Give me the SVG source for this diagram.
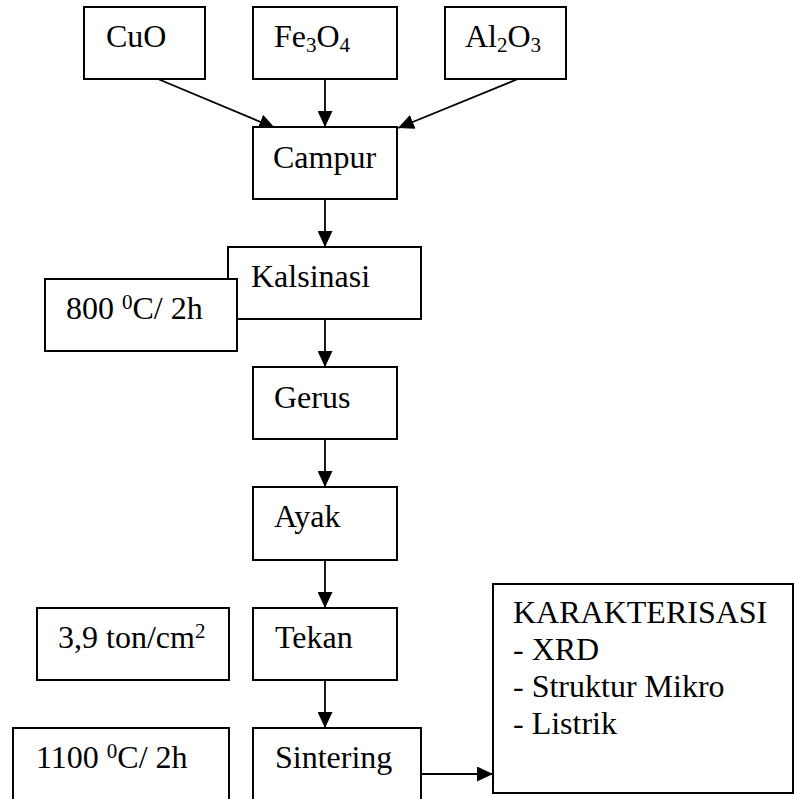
<svg xmlns="http://www.w3.org/2000/svg" width="794" height="799" viewBox="0 0 794 799">
<style>
  .box { fill: #fff; stroke: #000; stroke-width: 2; }
  .t { font-family: 'Liberation Serif', serif; font-size: 32px; fill: #000; }
  .sub { font-size: 21px; }
  .conn { stroke: #000; stroke-width: 1.8; fill: none; }
</style>
<defs>
  <marker id="ah" markerUnits="userSpaceOnUse" markerWidth="16" markerHeight="15" refX="16" refY="7.5" orient="auto">
    <path d="M0,0 L16,7.5 L0,15 z" fill="#000"/>
  </marker>
</defs>
<rect width="794" height="799" fill="#fff"/>

<g id="connectors">
  <line class="conn" x1="158" y1="79" x2="275" y2="128" marker-end="url(#ah)"/>
  <line class="conn" x1="325" y1="79" x2="325" y2="127" marker-end="url(#ah)"/>
  <line class="conn" x1="518" y1="79" x2="398" y2="128" marker-end="url(#ah)"/>
  <line class="conn" x1="325" y1="199" x2="325" y2="247" marker-end="url(#ah)"/>
  <line class="conn" x1="325" y1="319" x2="325" y2="367" marker-end="url(#ah)"/>
  <line class="conn" x1="325" y1="439" x2="325" y2="487" marker-end="url(#ah)"/>
  <line class="conn" x1="325" y1="560" x2="325" y2="608" marker-end="url(#ah)"/>
  <line class="conn" x1="325" y1="680" x2="325" y2="728" marker-end="url(#ah)"/>
  <line class="conn" x1="421" y1="774" x2="493" y2="774" marker-end="url(#ah)"/>
</g>

<g font-family="Liberation Serif, serif">
<g id="cuo">
  <rect class="box" x="84" y="7" width="121" height="72"/>
  <text class="t" x="106" y="47">CuO</text>
</g>
<g id="fe3o4">
  <rect class="box" x="253" y="7" width="144" height="72"/>
  <text class="t" x="274" y="47">Fe<tspan class="sub" dy="4.5">3</tspan><tspan dy="-4.5">O</tspan><tspan class="sub" dy="4.5">4</tspan></text>
</g>
<g id="al2o3">
  <rect class="box" x="445" y="7" width="121" height="72"/>
  <text class="t" x="465" y="47">Al<tspan class="sub" dy="4.5">2</tspan><tspan dy="-4.5">O</tspan><tspan class="sub" dy="4.5">3</tspan></text>
</g>
<g id="campur">
  <rect class="box" x="253" y="127" width="144" height="72"/>
  <text class="t" x="273" y="167.5">Campur</text>
</g>
<g id="kalsinasi">
  <rect class="box" x="228" y="247" width="193" height="72"/>
  <text class="t" x="251" y="287">Kalsinasi</text>
</g>
<g id="suhu800">
  <rect class="box" x="45" y="279" width="192" height="72"/>
  <text class="t" x="66" y="319">800 <tspan class="sub" dy="-10.5">0</tspan><tspan dy="10.5">C/ 2h</tspan></text>
</g>
<g id="gerus">
  <rect class="box" x="253" y="367" width="144" height="72"/>
  <text class="t" x="274" y="408">Gerus</text>
</g>
<g id="ayak">
  <rect class="box" x="253" y="487" width="144" height="73"/>
  <text class="t" x="274" y="527">Ayak</text>
</g>
<g id="tekanan">
  <rect class="box" x="37" y="608" width="192" height="72"/>
  <text class="t" x="58" y="648">3,9 ton/cm<tspan class="sub" dy="-10.5">2</tspan></text>
</g>
<g id="tekan">
  <rect class="box" x="253" y="608" width="144" height="72"/>
  <text class="t" x="275" y="648">Tekan</text>
</g>
<g id="suhu1100">
  <rect class="box" x="13" y="728" width="216" height="80"/>
  <text class="t" x="36" y="768">1100 <tspan class="sub" dy="-10.5">0</tspan><tspan dy="10.5">C/ 2h</tspan></text>
</g>
<g id="sintering">
  <rect class="box" x="253" y="728" width="168" height="80"/>
  <text class="t" x="275" y="768">Sintering</text>
</g>
<g id="karakterisasi">
  <rect class="box" x="493" y="584" width="300" height="209"/>
  <text class="t" x="513" y="623.3">KARAKTERISASI</text>
  <text class="t" x="513" y="660">- XRD</text>
  <text class="t" x="513" y="696.8">- Struktur Mikro</text>
  <text class="t" x="513" y="733.6">- Listrik</text>
</g>
</g>
</svg>
